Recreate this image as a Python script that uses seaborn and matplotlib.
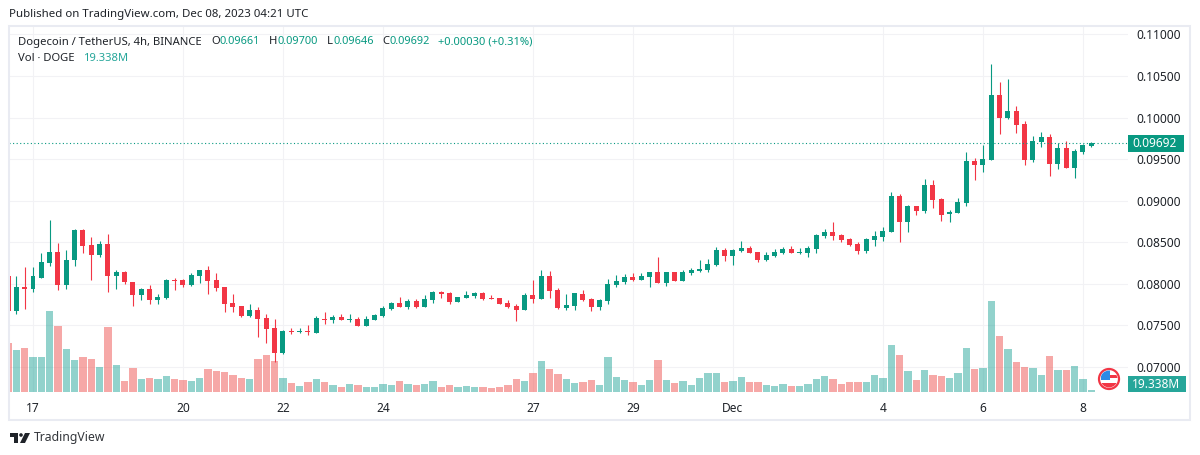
import numpy as np
import pandas as pd
import matplotlib
matplotlib.use("Agg")
import matplotlib.pyplot as plt
from matplotlib.patches import Rectangle, Circle, Polygon
from matplotlib.ticker import FixedLocator, FuncFormatter
import seaborn as sns

# Candle data, prices in 1e-5 USDT; first candle is 3 bars before the "17" tick
opens = [8092,7676,7960,7936,8076,8248,8380,7984,8284,8644,8464,8344,8476,8092,8140,8020,7864,7936,7804,7828,
         8044,8044,7984,8092,8164,8044,7960,7768,7732,7612,7684,7588,7468,7168,7432,7424,7432,7408,7576,7564,
         7600,7564,7576,7492,7564,7612,7696,7768,7720,7792,7720,7804,7900,7888,7780,7828,7852,7888,7828,7828,
         7768,7732,7684,7864,7816,8092,7924,7708,7732,7876,7816,7720,7792,7984,8020,8080,8044,8080,8140,8008,
         8140,8032,8128,8152,8164,8224,8404,8332,8392,8428,8380,8284,8332,8368,8416,8368,8368,8416,8572,8620,
         8584,8536,8476,8392,8532,8568,8628,9060,8748,8940,8880,9192,9024,8844,8856,8976,9480,9432,9492,10272,
         9996,10080,9924,9492,9708,9768,9444,9636,9396,9588,9661]
highs = [8092,8092,8200,8200,8368,8764,8488,8404,8656,8656,8560,8512,8596,8164,8152,8020,7948,7984,7876,8056,
         8068,8056,8128,8164,8212,8128,7960,7876,7732,7756,7720,7636,7576,7444,7468,7468,7504,7612,7660,7624,
         7636,7636,7600,7612,7636,7732,7780,7840,7816,7816,7864,7912,7912,7900,7840,7912,7900,7900,7864,7828,
         7804,7756,7888,8044,8164,8152,7948,7876,7888,7924,7828,7816,8056,8104,8116,8128,8128,8140,8320,8140,
         8140,8164,8188,8284,8296,8440,8428,8416,8512,8452,8380,8380,8416,8440,8452,8428,8452,8596,8656,8740,
         8596,8548,8500,8548,8640,8688,9108,9084,8952,8940,9264,9252,9036,8892,9036,9588,9516,9672,10644,10428,
         10464,10140,9960,9780,9828,9804,9696,9720,9624,9684,9700]
lows = [7676,7636,7696,7904,8068,8212,7924,7936,8212,8368,8044,8320,7900,7936,7996,7732,7804,7756,7756,7816,
        7924,7960,7972,8008,7876,7908,7660,7660,7600,7600,7360,7288,7060,7156,7396,7408,7384,7408,7516,7528,
        7564,7540,7492,7492,7564,7600,7684,7720,7696,7708,7720,7768,7828,7756,7780,7828,7828,7804,7816,7756,
        7708,7552,7684,7768,7816,7828,7696,7684,7684,7792,7672,7684,7756,7960,7996,8032,8044,7960,8008,7972,
        8032,8032,8104,8140,8140,8212,8272,8224,8380,8368,8260,8272,8320,8356,8368,8356,8320,8368,8548,8524,
        8500,8452,8356,8368,8460,8520,8628,8508,8628,8832,8856,8916,8760,8748,8856,8940,9252,9348,9492,9804,
        9984,9816,9432,9468,9648,9300,9384,9396,9276,9564,9646]
closes = [7676,7960,7936,8092,8260,8380,7984,8284,8644,8452,8344,8476,8092,8140,8020,7864,7936,7804,7840,8044,
          8032,7984,8104,8164,8032,7948,7756,7720,7612,7684,7576,7456,7168,7432,7420,7432,7424,7588,7568,7600,
          7564,7576,7492,7576,7624,7708,7768,7720,7792,7720,7816,7900,7876,7780,7840,7864,7888,7816,7816,7756,
          7720,7684,7864,7816,8092,7912,7708,7744,7888,7804,7720,7804,7996,8032,8080,8044,8092,8140,8008,8140,
          8032,8140,8164,8176,8236,8404,8332,8404,8428,8368,8284,8344,8380,8416,8368,8380,8428,8584,8620,8572,
          8524,8464,8392,8536,8580,8640,9060,8748,8940,8880,9192,9012,8832,8868,8988,9480,9432,9504,10272,9996,
          10080,9912,9492,9720,9768,9444,9636,9396,9600,9672,9692]
volumes = [470,403,422,336,336,778,634,413,307,336,317,240,624,259,106,230,125,134,125,154,
           125,115,106,134,221,202,192,163,134,125,317,355,298,134,86,58,96,125,96,67,
           48,77,67,48,48,77,67,106,77,67,77,106,48,67,48,58,48,48,38,48,
           67,125,106,182,298,221,173,125,86,96,115,67,336,144,115,96,67,115,307,115,
           86,106,67,134,182,182,96,106,144,96,96,67,58,77,58,58,77,125,154,125,
           77,96,96,96,163,134,451,355,202,115,211,163,154,134,182,422,221,230,874,538,
           413,288,240,230,163,346,211,211,250,125,19.338]
first_bar = -3
day_ticks = [0, 18, 30, 42, 60, 72, 84, 102, 114, 126]
day_labels = ["17", "20", "22", "24", "27", "29", "Dec", "4", "6", "8"]
price_ticks = [7000, 7500, 8000, 8500, 9000, 9500, 10000, 10500, 11000]

UP, DOWN = "#089981", "#f23645"
GRID, FRAME, INK = "#f2f2f5", "#e9ebf2", "#1f2329"
W, H = 1200, 455

sns.set_theme(style="white")
plt.rcParams["font.family"] = ["Noto Sans", "DejaVu Sans"]

df = pd.DataFrame({"open": opens, "high": highs, "low": lows, "close": closes, "volume": volumes})
df["bar"] = np.arange(len(df)) + first_bar
df["direction"] = np.where(df["close"] >= df["open"], "up", "down")

fig = plt.figure(figsize=(W / 100, H / 100), dpi=100, facecolor="white")
rect = [9 / W, 1 - 392 / H, 1119 / W, 367 / H]
xlim = ((9 - 33) / 8.333, (1128 - 33) / 8.333)

axv = fig.add_axes(rect, zorder=1)
sns.barplot(data=df, x="bar", y="volume", hue="direction", native_scale=True, dodge=False,
            palette={"up": "#26a69a", "down": "#ef5350"}, alpha=0.5, saturation=1, width=0.88,
            linewidth=0, legend=False, ax=axv)
axv.set_xlim(xlim)
axv.set_ylim(0, 3523)
axv.set_ylabel("")
axv.set_xlabel("")
axv.set_xticks(day_ticks)
axv.set_yticks([])
axv.set_xticklabels(day_labels, fontsize=8.6, color=INK)
axv.tick_params(axis="x", length=0, pad=7)
axv.set_facecolor("none")
for s in axv.spines.values():
    s.set_visible(False)

ax = fig.add_axes(rect, zorder=0)
ax.set_xlim(xlim)
ax.set_ylim(6699, 11113)
ax.xaxis.set_major_locator(FixedLocator(day_ticks))
ax.set_xticklabels([])
ax.yaxis.set_major_locator(FixedLocator(price_ticks))
ax.yaxis.set_major_formatter(FuncFormatter(lambda v, _: f"{v / 1e5:.5f}"))
ax.yaxis.tick_right()
ax.tick_params(axis="y", length=0, pad=6, labelsize=8.6, labelcolor=INK)
ax.tick_params(axis="x", length=0)
ax.grid(True, color=GRID, lw=0.8)
for s in ax.spines.values():
    s.set_visible(False)

# candles on top of the volume histogram
axc = fig.add_axes(rect, zorder=2)
axc.set_xlim(xlim)
axc.set_ylim(6699, 11113)
axc.axis("off")
colors = [UP if d == "up" else DOWN for d in df["direction"]]
axc.vlines(df["bar"], df["low"], df["high"], colors=colors, lw=0.8)
axc.bar(df["bar"], (df["close"] - df["open"]).abs(), bottom=df[["open", "close"]].min(axis=1),
        width=0.6, color=colors, linewidth=0)
axc.axhline(closes[-1], color=UP, lw=0.8, ls=(0, (1, 2.2)))

# last price tag
trans = axc.get_yaxis_transform()
tag_h = 17 / 8.315 * 100
axc.add_patch(Rectangle((1.0, closes[-1] - tag_h / 2), 56 / 1119, tag_h, transform=trans,
                        facecolor=UP, edgecolor="none", clip_on=False, zorder=5))
axc.text(1.0 + 27 / 1119, closes[-1], f"{closes[-1] / 1e5:.5f}", transform=trans, color="white",
         fontsize=8.6, fontweight="bold", ha="center", va="center", clip_on=False, zorder=6)

# overlay in figure pixels for chrome
ov = fig.add_axes([0, 0, 1, 1], zorder=3)
ov.set_xlim(0, W)
ov.set_ylim(H, 0)
ov.axis("off")
ov.add_patch(Rectangle((9.25, 25.5), 1180.25, 394, fill=False, edgecolor=FRAME, lw=1.5))
ov.add_patch(Rectangle((1128, 376), 58, 16, facecolor="#26a69a", edgecolor="none"))
ov.text(1156, 384, "19.338M", color="white", fontsize=8.6, ha="center", va="center")

ov.text(9, 15, "Published on TradingView.com, Dec 08, 2023 04:21 UTC", color=INK, fontsize=8.25, va="center")
hdr_y, vol_y = 42, 58.5
ov.text(18, hdr_y, "Dogecoin / TetherUS, 4h, BINANCE", color=INK, fontsize=8.1, va="center")
for x, lab, val, off in [(211, "O", "0.09661", 8.5), (268.5, "H", "0.09700", 8.5),
                         (326.5, "L", "0.09646", 7), (382, "C", "0.09692", 8)]:
    ov.text(x, hdr_y, lab, color=INK, fontsize=8.1, va="center")
    ov.text(x + off, hdr_y, val, color=UP, fontsize=7.9, va="center")
ov.text(438, hdr_y, "+0.00030 (+0.31%)", color=UP, fontsize=8.05, va="center")
ov.text(18, vol_y, "Vol · DOGE", color=INK, fontsize=8.1, va="center")
ov.text(83, vol_y, "19.338M", color="#26a69a", fontsize=8.1, va="center")

# flag badge
fx, fy, fr = 1109, 379, 10
ov.add_patch(Circle((fx, fy), fr, facecolor="white", edgecolor=DOWN, lw=1.6))
inner = Circle((fx, fy), fr - 1.5, transform=ov.transData)
b = Rectangle((fx - 8, fy - 9), 9, 9.5, facecolor="#2e8ae6", edgecolor="none")
ov.add_patch(b); b.set_clip_path(inner)
s1 = Rectangle((fx + 1, fy - 4), 9, 2.5, facecolor=DOWN, edgecolor="none")
ov.add_patch(s1); s1.set_clip_path(inner)
s2 = Rectangle((fx - 9, fy + 3.5), 18, 5, facecolor=DOWN, edgecolor="none")
ov.add_patch(s2); s2.set_clip_path(inner)

# TradingView mark
ov.add_patch(Polygon([(10, 433), (18, 433), (18, 443), (14, 443), (14, 437), (10, 437)], facecolor=INK, edgecolor="none"))
ov.add_patch(Circle((21, 435), 1.8, facecolor=INK, edgecolor="none"))
ov.add_patch(Polygon([(25, 433), (30, 433), (25, 443), (20, 443)], facecolor=INK, edgecolor="none"))
ov.text(33.5, 437.5, "TradingView", color="#33363b", fontsize=8.8, va="center")

fig.savefig("out.png", dpi=100, facecolor="white")
